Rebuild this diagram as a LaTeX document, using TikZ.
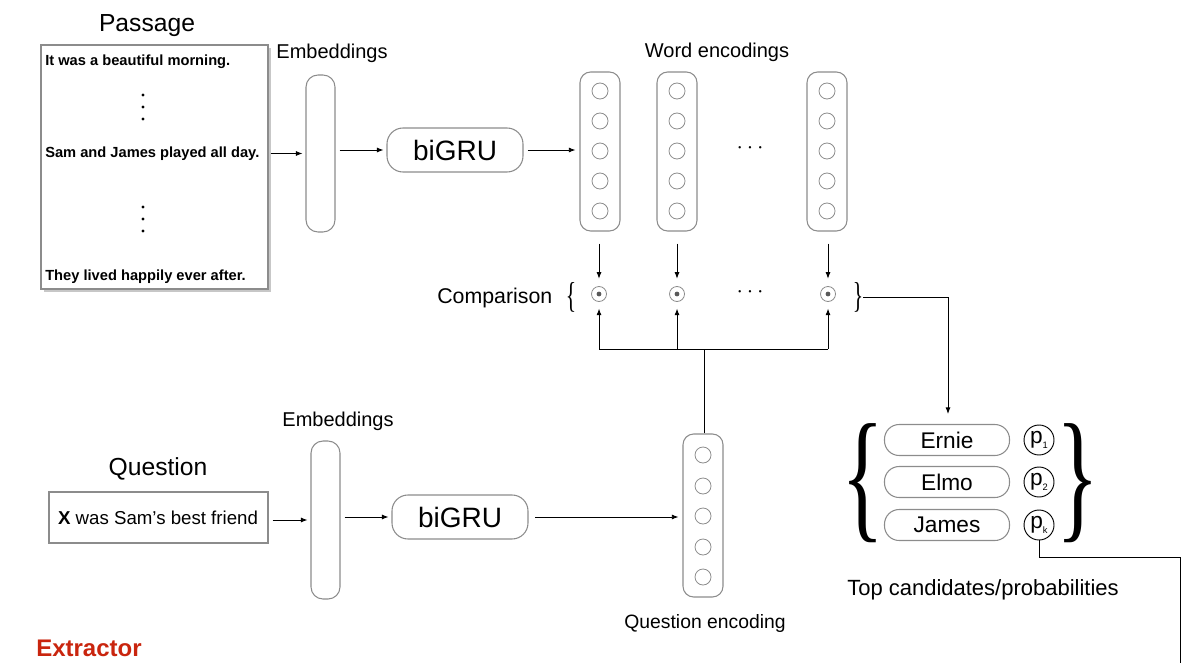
\documentclass[tikz,border=0pt]{standalone}
\usepackage{fontspec}
\usepackage{graphicx}
\setmainfont{Liberation Sans}
\newfontfamily\serifbr{Liberation Serif}
\usetikzlibrary{fit,arrows.meta,calc}
\newcommand\PX{*0.75pt}
\newcommand\fs[1]{\fontsize{#1}{#1}\selectfont}
\definecolor{edge}{HTML}{8C8C8C}
\definecolor{redx}{HTML}{C9250E}
\begin{document}
\begin{tikzpicture}[x=0.75pt,y=-0.75pt,
  frame/.style={draw=edge, line width=1pt, inner sep=0pt},
  bar/.style={draw=edge, line width=0.8pt, rounded corners=9pt, inner sep=0pt},
  gru/.style={draw=edge, line width=0.8pt, rounded corners=12pt, minimum width={136\PX}, minimum height={44\PX}, font=\fs{21}, inner sep=0pt},
  unit/.style={circle, draw=edge, line width=0.6pt, minimum size={16\PX}, inner sep=0pt},
  cmp/.style={circle, draw=edge, line width=0.6pt, minimum size={15\PX}, inner sep=0pt,
    path picture={\fill[black!65] (path picture bounding box.center) circle (1.8pt);}},
  pill/.style={draw=edge, line width=0.8pt, rounded corners=11pt, minimum width={125\PX}, minimum height={31\PX}, font=\fs{17}, inner sep=0pt},
  prob/.style={circle, draw=black, line width=0.7pt, minimum size={30\PX}, inner sep=0pt, font=\fs{17}},
  lbl/.style={font=\fs{15}},
  title/.style={font=\fs{18.5}},
  sent/.style={anchor=west, font=\bfseries\fs{11}, inner sep=0pt},
  brace/.style={inner sep=0pt},
  arr/.style={-{Latex[length=5pt,width=3.8pt]}, line width=0.7pt},
  wire/.style={line width=0.7pt}
]
\useasboundingbox (0,0) rectangle (1194,663);

% ---------- Passage ----------
\node[title] (ptitle) at (147,26) {Passage};
\fill[black!22] (44,48) rectangle (271,292);
\node[frame, fill=white, fit={(41,45)(268,289)}] (passage) {};
\node[sent] (s1) at (45,62) {It was a beautiful morning.};
\node[sent] (s2) at (45,154) {Sam and James played all day.};
\node[sent] (s3) at (45,277) {They lived happily ever after.};
\foreach \y in {95,107,119,207,219,231} \fill (143,\y) circle (1.3pt);

% ---------- Passage embeddings / biGRU ----------
\node[lbl] (e1lbl) at (332,53) {Embeddings};
\node[bar, fit={(306,75)(335,232)}] (emb1) {};
\node[gru] (gru1) at (455,150) {biGRU};

\draw[arr, shorten <=1.5pt, shorten >=2.2pt] (passage.east |- emb1) -- (emb1);
\draw[arr, shorten <=3pt, shorten >=2.2pt] (emb1.east |- gru1) -- (gru1);

% ---------- Word encodings ----------
\node[lbl] (welbl) at (717,52) {Word encodings};
\foreach \n/\x in {1/600,2/677,3/827}{
  \node[bar, rounded corners=8pt, fit={(\x-20,72)(\x+20,231)}] (w\n) {};
  \foreach \y [count=\i] in {91,121,151,181,211} \node[unit] (w\n u\i) at (\x,\y) {};
}
\node[font=\fs{16}] (wdots) at (750,148) {$\cdots$};
\draw[arr, shorten <=3pt, shorten >=3pt] (gru1.east) -- (w1.west |- gru1);

% ---------- Comparison ----------
\node[cmp] (c1) at (599,294) {};
\node[cmp] (c2) at (677,294) {};
\node[cmp] (c3) at (828,294) {};
\node[font=\fs{16}] (cdots) at (750,292) {$\cdots$};
\node[brace] (lb) at (571,297) {\scalebox{0.6}[1]{\serifbr\fs{27}\{}};
\node[brace] (rb) at (858,297) {\scalebox{0.6}[1]{\serifbr\fs{27}\}}};
\node[anchor=east, font=\fs{16}] (cmplbl) at (557,298) {Comparison};
\foreach \n in {1,2,3}
  \draw[arr, shorten <=9pt, shorten >=5.5pt] (w\n.south -| c\n) -- (c\n);

% ---------- Question ----------
\node[title] (qtitle) at (158,469) {Question};
\node[frame, fit={(49,492)(268,543)}] (qbox) {};
\node[font=\fs{14}] (qtext) at (158,518) {\textbf{X} was Sam’s best friend};
\node[lbl] (e2lbl) at (338,421) {Embeddings};
\node[bar, fit={(311,441)(340,599)}] (emb2) {};
\node[gru] (gru2) at (460,517) {biGRU};
\node[bar, rounded corners=8pt, fit={(683,434)(723,597)}] (q) {};
\foreach \y [count=\i] in {455,486,516,547,577} \node[unit] (qu\i) at (703,\y) {};
\node[font=\fs{14.5}] (qlbl) at (705,623) {Question encoding};

\draw[arr, shorten <=3pt, shorten >=2.2pt] (qbox.east |- emb2) -- (emb2);
\draw[arr, shorten <=3pt, shorten >=2.2pt] (emb2.east |- gru2) -- (gru2);
\draw[arr, shorten <=5pt, shorten >=3pt] (gru2.east) -- (q.west |- gru2);

% ---------- question encoding to comparisons ----------
\coordinate (bus) at (704,349);
\draw[wire] (q.north -| bus) -- (bus);
\draw[wire] (c1 |- bus) -- (c3 |- bus);
\foreach \n in {1,2,3}
  \draw[arr, shorten >=5pt] (c\n |- bus) -- (c\n);

% ---------- Candidates ----------
\node[pill] (ernie) at (947,440) {Ernie};
\node[pill] (elmo) at (947,482) {Elmo};
\node[pill] (james) at (947,525) {James};
\node[prob] (p1) at (1039,440) {p\raisebox{-4pt}{\fs{7}1}};
\node[prob] (p2) at (1039,482) {p\raisebox{-4pt}{\fs{7}2}};
\node[prob] (pk) at (1039,525) {p\raisebox{-4pt}{\fs{7}k}};
\node[brace] (blb) at (863,483) {\scalebox{0.62}[1]{\serifbr\fs{108}\{}};
\node[brace] (brb) at (1078,483) {\scalebox{0.62}[1]{\serifbr\fs{108}\}}};
\node[font=\fs{16.5}] (toplbl) at (983,590) {Top candidates/probabilities};
\coordinate (candtop) at (948,414);
\draw[arr] (rb.east) -| (candtop);
\coordinate (out) at (1180,663);
\draw[wire] (pk.south) -- ++(0,17) -| (out);

% ---------- Extractor ----------
\node[anchor=west, font=\bfseries\fs{18}, text=redx, inner sep=0pt] (extr) at (36,648) {Extractor};
\end{tikzpicture}
\end{document}
